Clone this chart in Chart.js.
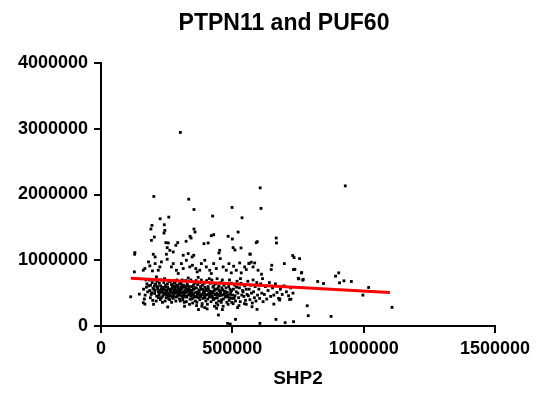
<!DOCTYPE html>
<html>
<head>
<meta charset="utf-8">
<script src="https://cdn.jsdelivr.net/npm/chart.js@4.4.1/dist/chart.umd.min.js"></script>
<style>
  html, body { margin: 0; padding: 0; background: #ffffff; }
  #wrap { width: 550px; height: 396px; position: relative; }
</style>
</head>
<body>
<div id="wrap"><canvas id="c" width="550" height="396"></canvas></div>
<script>
// ---------- DATA (values in thousands) ----------
const UNIT = 1000;
const chartTitle = 'PTPN11 and PUF60';
const xAxisTitle = 'SHP2';
const xTickLabels = ['0', '500000', '1000000', '1500000'];
const yTickLabels = ['0', '1000000', '2000000', '3000000', '4000000'];

// sparse / outlying samples [SHP2, PUF60]
const outerSamples = [
  [302,2944],[930,2131],[606,2101],[201,1970],[334,1929],[609,1788],[499,1803],[354,1772],
  [425,1672],[258,1656],[225,1631],[537,1646],[194,1530],[190,1475],[241,1540],[243,1454],
  [240,1414],[522,1429],[354,1475],[358,1429],[429,1389],[420,1374],[484,1364],[500,1323],
  [339,1364],[343,1338],[591,1268],[667,1338],[668,1263],[203,1353],[247,1268],[256,1263],
  [292,1268],[285,1227],[392,1252],[408,1263],[324,1288],[192,1303],[503,1192],[510,1156],
  [533,1187],[452,1151],[262,1151],[275,1126],[252,1192],[129,1116],[128,1091],[199,1091],
  [206,1050],[347,1050],[353,1076],[313,1076],[568,1091],[730,1071],[735,1040],[756,1025],
  [698,949],[650,924],[648,859],[733,859],[763,808],[905,808],[893,758],[753,717],[768,697],
  [825,677],[847,646],[925,687],[953,677],[908,657],[1019,586],[997,470],[1108,283],[785,308],
  [789,157],[876,146],[718,404],[723,409],[680,394],[658,333],[666,101],[701,51],[733,66],
  [605,40],[512,101],[482,40],[492,30],[447,167],[594,253],[575,293],[113,444],[146,485],
  [167,333],[161,354],[200,330],[254,290],[318,300],[371,250],[395,280],[440,270],[462,250],
  [520,280],[553,330],[595,1282],[567,1095],[564,953],[738,862],[764,811],[751,725],[770,710],[681,411]
];

// middle band samples
const bandSamples = [
  [127,823],[181,975],[167,874],[161,848],[186,914],[196,838],[206,949],[218,848],[224,899],
  [211,747],[230,975],[249,1091],[252,1015],[268,899],[275,949],[287,848],[294,798],[306,949],
  [313,874],[325,1000],[332,1101],[338,899],[348,924],[361,874],[366,823],[376,848],[382,949],
  [395,1000],[401,899],[414,848],[420,798],[429,949],[439,874],[449,1111],[454,1025],[465,899],
  [477,848],[487,949],[496,808],[505,909],[515,848],[528,959],[534,808],[547,899],[553,859],
  [563,949],[572,970],[579,899],[585,959],[598,848],[611,788]
];

// dense core samples
const coreSamples = [
  [162,560],[168,470],[175,640],[171,700],[178,520],[165,410],[173,590],
  [182,610],[186,540],[191,480],[195,660],[188,430],[198,575],[184,700],[193,505],[197,390],[189,620],
  [201,560],[204,495],[208,640],[212,455],[215,600],[218,520],[206,700],[210,380],[214,680],[219,430],[203,610],[216,560],
  [221,470],[224,540],[227,610],[230,430],[233,580],[236,500],[239,660],[222,650],[226,400],[231,520],[235,455],[238,590],[228,700],[234,360],
  [241,560],[243,480],[246,620],[248,430],[251,520],[254,590],[257,450],[259,680],[244,380],[249,540],[253,640],[256,500],[242,720],[258,410],[247,600],
  [261,470],[263,560],[266,510],[268,630],[271,440],[273,590],[276,490],[279,540],[262,400],[265,680],[269,360],[272,610],[275,420],[278,650],[264,530],[270,570],[277,460],
  [281,500],[283,580],[286,440],[288,620],[291,530],[293,470],[296,560],[299,410],[282,660],[285,380],[289,700],[292,600],[295,490],[298,640],[284,540],[290,450],[297,520],
  [301,470],[303,560],[306,510],[308,620],[311,430],[313,590],[316,480],[319,540],[302,380],[305,650],[309,700],[312,400],[315,620],[318,450],[304,590],[310,520],[317,360],[307,460],
  [321,500],[323,580],[326,440],[328,640],[331,530],[333,470],[336,600],[339,410],[322,690],[325,370],[329,560],[332,730],[335,490],[338,550],[324,450],[330,610],[337,330],
  [341,520],[343,460],[346,600],[348,420],[351,560],[353,490],[356,650],[359,380],[342,700],[345,540],[349,350],[352,620],[355,440],[358,580],[344,410],[350,470],
  [361,510],[363,580],[366,440],[368,630],[371,480],[373,550],[376,400],[379,600],[362,690],[365,360],[369,520],[372,430],[375,660],[378,470],[364,310],[370,740],
  [381,560],[383,480],[386,620],[388,420],[391,530],[393,460],[396,590],[399,380],[382,700],[385,340],[389,500],[392,650],[395,430],[398,540],[384,300],
  [401,470],[403,540],[406,410],[408,600],[411,500],[413,440],[416,650],[419,370],[402,690],[405,330],[409,560],[412,720],[415,480],[418,520],[404,260],
  [421,520],[423,450],[426,590],[428,400],[431,540],[433,480],[436,640],[439,350],[422,700],[425,430],[429,610],[432,300],[435,560],[438,470],
  [441,500],[443,430],[446,580],[448,380],[451,540],[453,460],[456,660],[459,400],[442,720],[445,320],[449,610],[452,480],[455,520],[458,360],
  [461,470],[463,550],[466,410],[468,620],[471,500],[473,440],[476,580],[479,360],[462,700],[465,300],[469,530],[474,650],[477,460],
  [481,510],[483,440],[486,600],[488,390],[491,560],[493,480],[496,650],[499,420],[484,330],[489,700],[494,520],[498,360],
  [501,470],[504,560],[507,420],[509,620],[512,380],[515,520],[518,680],[503,340],[510,460],[516,590],
  [521,500],[524,430],[527,580],[530,370],[533,650],[536,470],[539,540],[525,310],[531,720],
  [541,520],[544,450],[547,610],[550,390],[553,560],[556,480],[559,680],[546,340],
  [561,460],[564,560],[567,400],[570,620],[573,500],[576,350],[579,700],
  [581,520],[584,430],[587,600],[590,380],[593,660],[596,470],
  [601,560],[604,420],[608,640],[612,500],[617,370],[615,720],
  [622,480],[626,600],[631,410],[636,540],[641,660],[646,450],
  [653,580],[658,470],[664,640],[670,510],[676,420],[683,560],[690,480],[697,610],
  [706,520],[714,460],[722,580],[731,500],
  [205,540],[213,590],[223,505],[229,565],[237,545],[245,505],[252,470],[255,560],[267,460],
  [274,520],[280,600],[287,505],[294,580],[300,530],[307,570],[314,510],[320,600],[327,520],
  [334,560],[340,480],[347,510],[354,560],[360,450],[367,490],[374,520],[380,450],[387,560],
  [394,500],[400,560],[407,480],[414,530],[420,480],[427,510],[434,420],[440,560],[447,470],
  [454,500],[460,580],[467,480],[475,520],[482,470],[490,430],[497,540]
];

// linear regression line end points
const fitSHP2 = [114, 1100];
const fitPUF60 = [727, 510];

// ---------- CHART ----------
const toPoints = arr => arr.map(p => ({ x: p[0] * UNIT, y: p[1] * UNIT }));
const scatterPoints = toPoints(outerSamples.concat(bandSamples, coreSamples));
const fitPoints = fitSHP2.map((v, i) => ({ x: v * UNIT, y: fitPUF60[i] * UNIT }));

const FONT = "'Liberation Sans', Arial, Helvetica, sans-serif";

const bgAndTitle = {
  id: 'bgAndTitle',
  beforeDraw(chart) {
    const ctx = chart.ctx;
    ctx.save();
    ctx.fillStyle = '#ffffff';
    ctx.fillRect(0, 0, chart.width, chart.height);
    ctx.restore();
  },
  afterDraw(chart) {
    const ctx = chart.ctx;
    ctx.save();
    ctx.fillStyle = '#000000';
    ctx.font = 'bold 23px ' + FONT;
    ctx.textAlign = 'center';
    ctx.textBaseline = 'middle';
    ctx.fillText(chartTitle, 284, 24);
    ctx.restore();
  }
};

new Chart(document.getElementById('c'), {
  type: 'scatter',
  data: {
    datasets: [
      {
        type: 'line',
        data: fitPoints,
        borderColor: '#ff0000',
        borderWidth: 3,
        pointRadius: 0,
        fill: false,
        showLine: true
      },
      {
        data: scatterPoints,
        pointStyle: 'rect',
        pointRadius: 2,
        pointBorderWidth: 0,
        backgroundColor: '#000000',
        borderColor: '#000000'
      }
    ]
  },
  options: {
    responsive: false,
    animation: false,
    events: [],
    layout: { padding: { top: 63, right: 55, left: 0, bottom: 0 } },
    plugins: {
      legend: { display: false },
      tooltip: { enabled: false },
      title: { display: false }
    },
    scales: {
      x: {
        type: 'linear',
        min: 0,
        max: 1500000,
        afterFit(scale) { scale.height = 70; },
        border: { display: true, color: '#000000', width: 2 },
        grid: { display: true, drawOnChartArea: false, drawTicks: true, tickLength: 7, color: '#000000', lineWidth: 2 },
        ticks: {
          stepSize: 500000,
          color: '#000000',
          padding: 5,
          maxRotation: 0,
          font: { family: FONT, size: 18, weight: 'bold' },
          callback: (v, i) => xTickLabels[i]
        },
        title: {
          display: true,
          text: xAxisTitle,
          color: '#000000',
          padding: { top: 2, bottom: 6 },
          font: { family: FONT, size: 19, weight: 'bold' }
        }
      },
      y: {
        type: 'linear',
        min: 0,
        max: 4000000,
        afterFit(scale) { scale.width = 101; },
        border: { display: true, color: '#000000', width: 2 },
        grid: { display: true, drawOnChartArea: false, drawTicks: true, tickLength: 7, color: '#000000', lineWidth: 2 },
        ticks: {
          stepSize: 1000000,
          color: '#000000',
          padding: 6,
          font: { family: FONT, size: 18, weight: 'bold' },
          callback: (v, i) => yTickLabels[i]
        }
      }
    }
  },
  plugins: [bgAndTitle]
});
</script>
</body>
</html>
